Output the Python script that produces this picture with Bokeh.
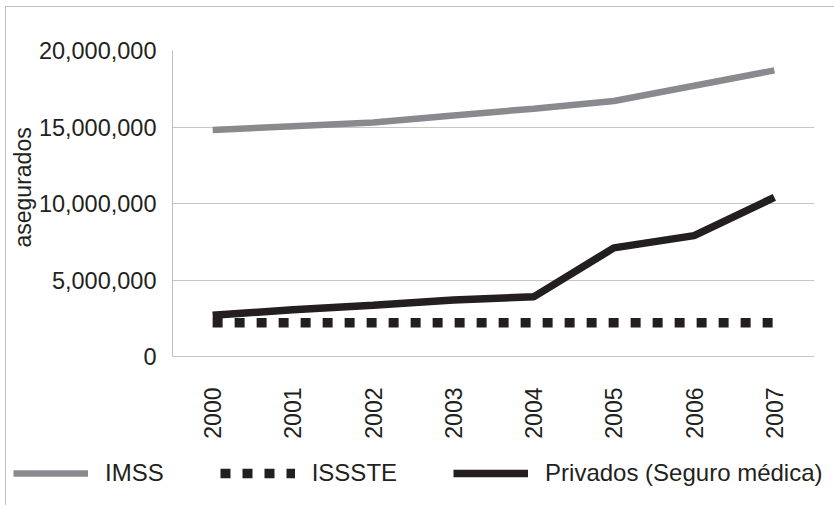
import math

from bokeh.embed import file_html
from bokeh.models import (FactorRange, FixedTicker, Legend, LegendItem,
                          NumeralTickFormatter, Range1d, Title)
from bokeh.plotting import figure
from bokeh.resources import INLINE

# Insured population by institution, 2000-2007
years = ["2000", "2001", "2002", "2003", "2004", "2005", "2006", "2007"]
imss = [14_800_000, 15_050_000, 15_300_000, 15_750_000, 16_200_000, 16_700_000, 17_700_000, 18_700_000]
issste = [2_200_000, 2_200_000, 2_200_000, 2_200_000, 2_200_000, 2_200_000, 2_200_000, 2_200_000]
privados = [2_700_000, 3_050_000, 3_350_000, 3_700_000, 3_900_000, 7_100_000, 7_900_000, 10_400_000]
y_ticks = [0, 5_000_000, 10_000_000, 15_000_000, 20_000_000]
series_names = ["IMSS", "ISSSTE", "Privados (Seguro médica)"]

FONT = "Liberation Sans"
TEXT = "#231f20"
GRID = "#c6c6c6"
EDGE = "linear-gradient(#c0c0c0, #c0c0c0)"
STYLES = [
    dict(line_color="#898a8e", line_width=6.5),
    dict(line_color=TEXT, line_width=9.5, line_dash="10 12"),
    dict(line_color=TEXT, line_width=7.5),
]
SERIES = [imss, issste, privados]

# ---- main chart -------------------------------------------------------------
p = figure(
    x_range=FactorRange(*years, range_padding=0),
    y_range=Range1d(0, 20_000_000),
    frame_width=642, frame_height=306,
    min_border_left=172, min_border_right=20,
    min_border_top=50, min_border_bottom=94,
    output_backend="svg", toolbar_location=None,
    background_fill_color="white", border_fill_color=None,
)
p.outline_line_color = None
# chart-area edge lines (left and top)
p.styles = {
    "background-image": f"{EDGE}, {EDGE}",
    "background-size": "1px calc(100% - 6px), calc(100% - 5px) 1px",
    "background-position": "5px 6px, 5px 6px",
    "background-repeat": "no-repeat",
    "background-color": "white",
}

p.yaxis.ticker = FixedTicker(ticks=y_ticks)
p.yaxis.formatter = NumeralTickFormatter(format="0,0")
p.yaxis.major_tick_line_color = None
p.yaxis.minor_tick_line_color = None
p.yaxis.axis_line_color = "#bfbfbf"
p.yaxis.major_label_standoff = 10
p.yaxis.major_label_text_font = FONT
p.yaxis.major_label_text_font_size = "23.5px"
p.yaxis.major_label_text_color = TEXT

p.xaxis.major_tick_line_color = None
p.xaxis.minor_tick_line_color = None
p.xaxis.axis_line_color = GRID
p.xaxis.major_label_orientation = math.pi / 2
p.xaxis.major_label_standoff = 25
p.xaxis.major_label_text_font = FONT
p.xaxis.major_label_text_font_size = "23px"
p.xaxis.major_label_text_color = TEXT

p.xgrid.grid_line_color = None
p.ygrid.grid_line_color = GRID
p.ygrid.ticker = FixedTicker(ticks=y_ticks)

for vals, style in zip(SERIES, STYLES):
    p.line(years, vals, **style)

# y-axis title, set in the left margin
p.add_layout(Title(
    text="asegurados", align="left", offset=109, standoff=0,
    text_font=FONT, text_font_size="23px", text_font_style="normal",
    text_color=TEXT,
), "left")

# ---- legend strip -----------------------------------------------------------
# same series, drawn against a range that keeps them out of view, so the
# strip only shows the legend entries
key = figure(
    width=834, height=55,
    x_range=FactorRange(*years, range_padding=0),
    y_range=Range1d(30_000_000, 40_000_000),
    x_axis_type=None, y_axis_type=None, min_border=0,
    output_backend="svg", toolbar_location=None,
    background_fill_color=None, border_fill_color=None,
)
key.outline_line_color = None
key.xgrid.visible = False
key.ygrid.visible = False
key.styles = {
    "background-image": EDGE,
    "background-size": "1px 100%",
    "background-position": "5px 0",
    "background-repeat": "no-repeat",
    "background-color": "white",
}
key_renderers = [key.line(years, vals, **style) for vals, style in zip(SERIES, STYLES)]

legend = Legend(
    items=[LegendItem(label=name, renderers=[r]) for name, r in zip(series_names, key_renderers)],
    location=(13, 18),
    orientation="horizontal",
    glyph_width=75, glyph_height=24, label_height=24,
    label_standoff=17, padding=0, margin=0, spacing=56,
    border_line_color=None, background_fill_alpha=0,
    label_text_font=FONT, label_text_font_size="24px",
    label_text_color=TEXT, label_text_baseline="middle",
)
key.add_layout(legend, "center")

open("out.html", "w").write(file_html([p, key], INLINE))
